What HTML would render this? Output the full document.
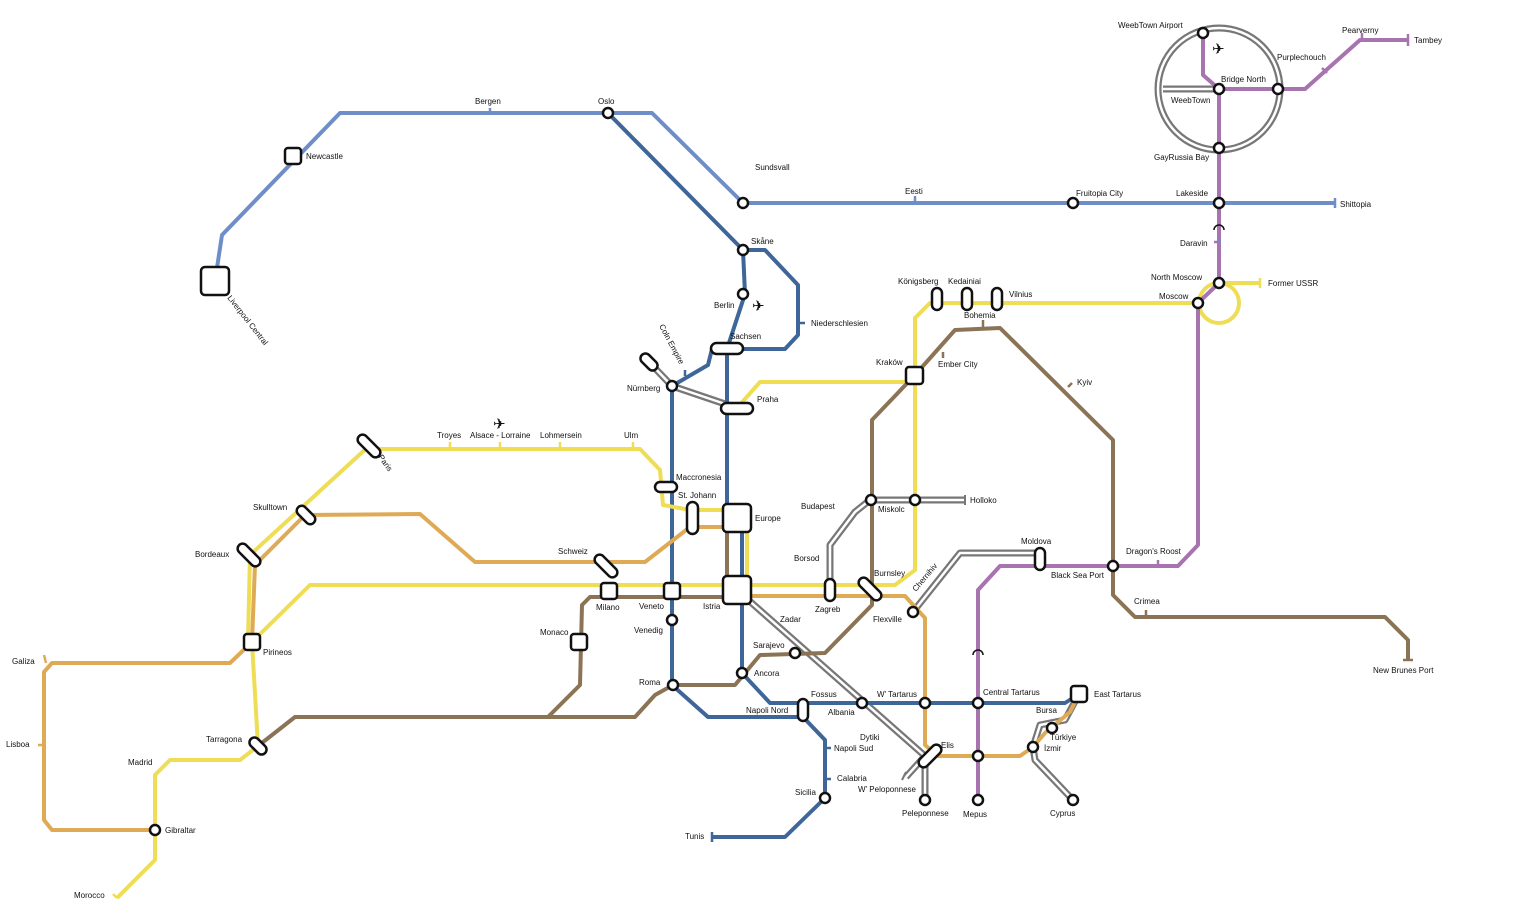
<!DOCTYPE html>
<html><head><meta charset="utf-8"><style>
html,body{margin:0;padding:0;background:#fff;}
svg{display:block}
text{font-family:"Liberation Sans",sans-serif;font-size:8px;fill:#111;}
</style></head><body>
<svg width="1530" height="920" viewBox="0 0 1530 920" xmlns="http://www.w3.org/2000/svg">
<g fill="none" stroke-linejoin="round" stroke-linecap="butt">
<g stroke="#777" stroke-width="7">
<path d="M649,362 L672,386 L737,408"/>
<path d="M737,590 L925,756 L906,777"/>
<path d="M925,756 L925,800"/>
<path d="M830,590 L830,545 L855,512 L870,500 L915,500 L965,500"/>
<path d="M913,612 L960,553 L1040,553"/>
<path d="M1079,694 L1065,720 L1040,725 L1033,747 L1035,760 L1073,800"/>
<circle cx="1219" cy="89" r="61"/>
<path d="M1163,89 L1219,89"/>
</g>
<g stroke="#fff" stroke-width="2.5">
<path d="M649,362 L672,386 L737,408"/>
<path d="M737,590 L925,756 L906,777"/>
<path d="M925,756 L925,800"/>
<path d="M830,590 L830,545 L855,512 L870,500 L915,500 L965,500"/>
<path d="M913,612 L960,553 L1040,553"/>
<path d="M1079,694 L1065,720 L1040,725 L1033,747 L1035,760 L1073,800"/>
<circle cx="1219" cy="89" r="61"/>
<path d="M1163,89 L1219,89"/>
</g>
<path d="M906,772 L902,780 M965,495 V505" stroke="#777" stroke-width="2"/>
<path d="M215,281 L222,235 L340,113 L652,113 L743,203 L1335,203" stroke="#6f8ec8" stroke-width="4"/>
<g stroke="#3f6699" stroke-width="4">
<path d="M608,113 L743,250 L745,294 L727,349 L727,590"/>
<path d="M743,250 L765,250 L798,285 L798,335 L785,349 L727,349 L712,349 L708,365 L672,386 L672,685 L708,717 L803,717 L825,740 L825,798 L785,837 L712,837"/>
<path d="M742,530 L742,673 L770,703 L1065,703 L1079,694"/>
</g>
<g stroke="#dfaa55" stroke-width="4">
<path d="M155,830 L52,830 L44,820 L44,672 L52,663 L230,663 L252,642 L255,565 L305,515 L420,514 L475,562 L645,562 L690,527 L737,527"/>
<path d="M737,596 L905,596 L925,618 L925,745 L938,756 L1020,756 L1033,747 L1045,733 L1070,712 L1079,694"/>
</g>
<g stroke="#eedd55" stroke-width="4">
<path d="M369,446 L380,449 L640,449 L660,470 L663,505 L690,510 L737,510"/>
<path d="M369,446 L250,555 L248,640 L252,642 L258,746 L240,760 L170,760 L155,775 L155,860 L117,898"/>
<path d="M252,642 L310,585 L895,585 L915,570 L915,318 L930,303 L1197,303"/>
<path d="M737,408 L760,382 L915,382"/>
<path d="M747,520 L747,590"/>
<path d="M1219,283 L1260,283"/>
<circle cx="1219" cy="303" r="20"/>
</g>
<g stroke="#8b7355" stroke-width="4">
<path d="M727,527 L727,590"/>
<path d="M737,597 L590,597 L582,605 L580,685 L548,717"/>
<path d="M258,746 L295,717 L635,717 L655,695 L673,685 L735,685 L760,655 L825,653 L872,605 L872,420 L915,375 L955,330 L1000,328 L1113,440 L1113,595 L1135,617 L1385,617 L1408,640 L1408,660"/>
</g>
<g stroke="#a874b0" stroke-width="4">
<path d="M1203,33 L1203,75 L1219,89 L1278,89 L1305,89 L1360,40 L1408,40"/>
<path d="M1219,89 L1219,283 L1198,303 L1198,545 L1178,566 L1000,566 L978,590 L978,800"/>
</g>
<g stroke-width="2.5">
<path d="M490,108 V113 M915,196 V203 M1217,240 H1221" stroke="#6f8ec8"/>
<path d="M798,323 H805 M685,370 V376 M825,748 H831 M825,779 H831 M712,832 V842" stroke="#3f6699"/>
<path d="M450,442 V449 M500,442 V449 M560,442 V449 M633,442 V449 M1260,278 V288 M117,898 L113,894" stroke="#eedd55"/>
<path d="M1335,198 V208" stroke="#6f8ec8"/>
<path d="M1362,33 V40 M1408,34 V46 M1322,68 L1327,73 M1158,566 V560 M1214,242 H1219" stroke="#a874b0"/>
<path d="M943,352 V358 M983,320 V327 M1068,387 L1072,383 M1146,610 V617 M1403,660 H1413" stroke="#8b7355"/>
<path d="M38,745 H44 M44,655 L46,663" stroke="#dfaa55"/>
</g>
<path d="M973,655 a5,5 0 0 1 10,0 M1214,230 a5,5 0 0 1 10,0" stroke="#111" stroke-width="1.5"/>
</g>
<g fill="#fff" stroke="#111" stroke-width="2.5">
<rect x="201" y="267" width="28" height="28" rx="4"/>
<rect x="285" y="148" width="16" height="16" rx="3"/>
<rect x="906" y="367" width="17" height="17" rx="3"/>
<rect x="723" y="504" width="28" height="28" rx="4"/>
<rect x="723" y="576" width="28" height="28" rx="4"/>
<rect x="664" y="583" width="16" height="16" rx="3"/>
<rect x="601" y="583" width="16" height="16" rx="3"/>
<rect x="571" y="634" width="16" height="16" rx="3"/>
<rect x="244" y="634" width="16" height="16" rx="3"/>
<rect x="1071" y="686" width="16" height="16" rx="3"/>
<rect x="711" y="343" width="32" height="11" rx="5.5"/>
<rect x="721" y="403" width="32" height="11" rx="5.5"/>
<rect x="655" y="482" width="22" height="10" rx="5"/>
<rect x="687" y="502" width="11" height="32" rx="5.5"/>
<rect x="932" y="288" width="10" height="22" rx="5"/>
<rect x="962" y="288" width="10" height="22" rx="5"/>
<rect x="992" y="288" width="10" height="22" rx="5"/>
<rect x="825" y="579" width="10" height="22" rx="5"/>
<rect x="1035" y="548" width="10" height="22" rx="5"/>
<rect x="798" y="699" width="10" height="22" rx="5"/>
<rect x="-14" y="-5" width="28" height="10" rx="5" transform="translate(369,446) rotate(45)"/>
<rect x="-11" y="-5" width="22" height="10" rx="5" transform="translate(306,515) rotate(45)"/>
<rect x="-14" y="-5" width="28" height="10" rx="5" transform="translate(249,555) rotate(45)"/>
<rect x="-14" y="-5" width="28" height="10" rx="5" transform="translate(606,566) rotate(45)"/>
<rect x="-14" y="-5" width="28" height="10" rx="5" transform="translate(870,589) rotate(45)"/>
<rect x="-10" y="-5" width="20" height="10" rx="5" transform="translate(649,362) rotate(45)"/>
<rect x="-10" y="-5" width="20" height="10" rx="5" transform="translate(258,746) rotate(45)"/>
<rect x="-14" y="-5" width="28" height="10" rx="5" transform="translate(930,756) rotate(-45)"/>
<g>
<circle cx="608" cy="113" r="5"/><circle cx="743" cy="203" r="5"/><circle cx="1073" cy="203" r="5"/>
<circle cx="1219" cy="203" r="5"/><circle cx="743" cy="250" r="5"/><circle cx="743" cy="294" r="5"/>
<circle cx="672" cy="386" r="5"/><circle cx="672" cy="620" r="5"/><circle cx="673" cy="685" r="5"/>
<circle cx="742" cy="673" r="5"/><circle cx="795" cy="653" r="5"/><circle cx="862" cy="703" r="5"/>
<circle cx="925" cy="703" r="5"/><circle cx="978" cy="703" r="5"/><circle cx="978" cy="756" r="5"/>
<circle cx="825" cy="798" r="5"/><circle cx="925" cy="800" r="5"/><circle cx="978" cy="800" r="5"/>
<circle cx="1073" cy="800" r="5"/><circle cx="1033" cy="747" r="5"/><circle cx="1052" cy="728" r="5"/>
<circle cx="871" cy="500" r="5"/><circle cx="915" cy="500" r="5"/><circle cx="913" cy="612" r="5"/>
<circle cx="1113" cy="566" r="5"/><circle cx="1219" cy="283" r="5"/><circle cx="1198" cy="303" r="5"/>
<circle cx="1203" cy="33" r="5"/><circle cx="1219" cy="89" r="5"/><circle cx="1278" cy="89" r="5"/>
<circle cx="1219" cy="148" r="5"/><circle cx="155" cy="830" r="5"/>
</g>
</g>
<g fill="#333">
<text x="752" y="311" style="font-size:15px">✈</text>
<text x="1212" y="54" style="font-size:15px">✈</text>
<text x="493" y="429" style="font-size:15px">✈</text>
</g>
<g>
<text x="475" y="104">Bergen</text><text x="598" y="104">Oslo</text><text x="306" y="159">Newcastle</text>
<text x="755" y="170">Sundsvall</text><text x="905" y="194">Eesti</text><text x="1076" y="196">Fruitopia City</text>
<text x="1176" y="196">Lakeside</text><text x="1340" y="207">Shittopia</text><text x="751" y="244">Skåne</text>
<text x="714" y="308">Berlin</text><text x="811" y="326">Niederschlesien</text><text x="730" y="339">Sachsen</text>
<text x="627" y="391">Nürnberg</text><text x="757" y="402">Praha</text><text x="876" y="365">Kraków</text>
<text x="938" y="367">Ember City</text><text x="898" y="284">Königsberg</text><text x="948" y="284">Kedainiai</text>
<text x="1009" y="297">Vilnius</text><text x="964" y="318">Bohemia</text><text x="1159" y="299">Moscow</text>
<text x="1151" y="280">North Moscow</text><text x="1268" y="286">Former USSR</text><text x="1180" y="246">Daravin</text>
<text x="1077" y="385">Kyiv</text><text x="1118" y="28">WeebTown Airport</text><text x="1342" y="33">Pearverny</text>
<text x="1414" y="43">Tambey</text><text x="1277" y="60">Purplechouch</text><text x="1221" y="82">Bridge North</text>
<text x="1171" y="103">WeebTown</text><text x="1154" y="160">GayRussia Bay</text>
<text x="437" y="438">Troyes</text><text x="470" y="438">Alsace - Lorraine</text><text x="540" y="438">Lohmersein</text>
<text x="624" y="438">Ulm</text><text x="676" y="480">Maccronesia</text><text x="678" y="498">St. Johann</text>
<text x="755" y="521">Europe</text><text x="801" y="509">Budapest</text><text x="878" y="512">Miskolc</text>
<text x="970" y="503">Holloko</text><text x="794" y="561">Borsod</text><text x="874" y="576">Burnsley</text>
<text x="815" y="612">Zagreb</text><text x="873" y="622">Flexville</text><text x="1021" y="544">Moldova</text>
<text x="1051" y="578">Black Sea Port</text><text x="1126" y="554">Dragon's Roost</text><text x="1134" y="604">Crimea</text>
<text x="1373" y="673">New Brunes Port</text><text x="253" y="510">Skulltown</text><text x="195" y="557">Bordeaux</text>
<text x="558" y="554">Schweiz</text><text x="596" y="610">Milano</text><text x="639" y="609">Veneto</text>
<text x="703" y="609">Istria</text><text x="634" y="633">Venedig</text><text x="540" y="635">Monaco</text>
<text x="780" y="622">Zadar</text><text x="263" y="655">Pirineos</text><text x="12" y="664">Galiza</text>
<text x="6" y="747">Lisboa</text><text x="206" y="742">Tarragona</text><text x="128" y="765">Madrid</text>
<text x="165" y="833">Gibraltar</text><text x="74" y="898">Morocco</text><text x="753" y="648">Sarajevo</text>
<text x="754" y="676">Ancora</text><text x="639" y="685">Roma</text><text x="811" y="697">Fossus</text>
<text x="746" y="713">Napoli Nord</text><text x="828" y="715">Albania</text><text x="877" y="697">W' Tartarus</text>
<text x="983" y="695">Central Tartarus</text><text x="1094" y="697">East Tartarus</text><text x="1036" y="713">Bursa</text>
<text x="1050" y="740">Türkiye</text><text x="1044" y="751">İzmir</text><text x="860" y="740">Dytiki</text>
<text x="834" y="751">Napoli Sud</text><text x="941" y="748">Elis</text><text x="837" y="781">Calabria</text>
<text x="858" y="792">W' Peloponnese</text><text x="795" y="795">Sicilia</text><text x="902" y="816">Peleponnese</text>
<text x="963" y="817">Mepus</text><text x="1050" y="816">Cyprus</text><text x="685" y="839">Tunis</text>
<text transform="translate(227,298) rotate(52)">Liverpool Central</text>
<text transform="translate(378,457) rotate(55)">Paris</text>
<text transform="translate(659,326) rotate(62)">Coln Empire</text>
<text transform="translate(916,592) rotate(-50)">Chernihiv</text>
</g>
</svg>
</body></html>
